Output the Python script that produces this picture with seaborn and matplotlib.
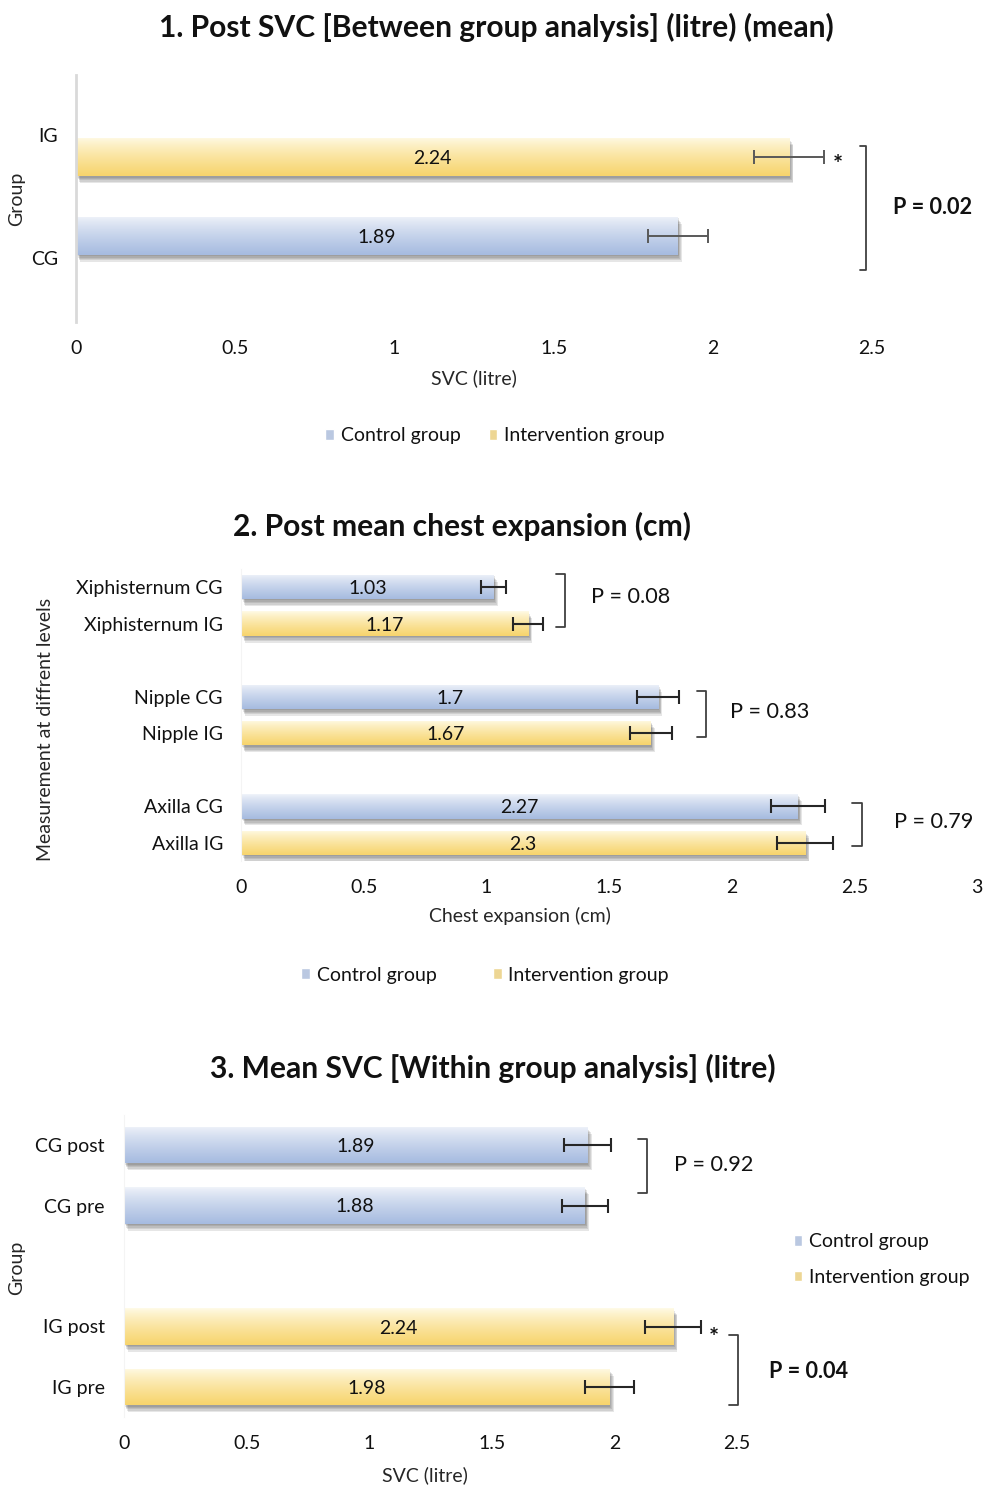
import numpy as np
import pandas as pd
import seaborn as sns
import matplotlib.pyplot as plt
import matplotlib.patheffects as pe
from matplotlib.colors import to_rgb
from matplotlib.container import BarContainer
from matplotlib.ticker import FuncFormatter

# ---- data ----
p1_groups = ["IG", "CG"]
p1_series = ["Intervention group", "Control group"]
p1_means = [2.24, 1.89]
p1_err = [0.11, 0.095]

p2_labels = ["Xiphisternum CG", "Xiphisternum IG", "Nipple CG", "Nipple IG",
             "Axilla CG", "Axilla IG"]
p2_series = ["Control group", "Intervention group"] * 3
p2_means = [1.03, 1.17, 1.7, 1.67, 2.27, 2.3]
p2_err = [0.05, 0.06, 0.085, 0.085, 0.11, 0.115]
p2_order = ["Xiphisternum CG", "Xiphisternum IG", " ", "Nipple CG", "Nipple IG",
            "  ", "Axilla CG", "Axilla IG"]

p3_labels = ["CG post", "CG pre", "IG post", "IG pre"]
p3_series = ["Control group", "Control group", "Intervention group", "Intervention group"]
p3_means = [1.89, 1.88, 2.24, 1.98]
p3_err = [0.095, 0.095, 0.115, 0.10]
p3_order = ["CG post", "CG pre", " ", "IG post", "IG pre"]

hue_order = ["Control group", "Intervention group"]
palette = {"Control group": "#B4C6E7", "Intervention group": "#FCDD85"}
grad = {"Control group": ("#F1F4FA", "#A6BBE0"),
        "Intervention group": ("#FFFBE8", "#F7D46C")}

sns.set_style("white")
plt.rcParams["font.family"] = ["Lato", "DejaVu Sans"]
plt.rcParams["text.color"] = "#111111"

FS = 14
W, H = 983, 1485
fig = plt.figure(figsize=(W / 100, H / 100), dpi=100)


def ax_px(left, right, top, bottom):
    return fig.add_axes([left / W, 1 - bottom / H, (right - left) / W, (bottom - top) / H])


def shade(ax):
    # vertical gradient + soft drop shadow on every bar
    shadow = [pe.SimplePatchShadow(offset=(o * 0.6, -o), shadow_rgbFace="#404040", alpha=0.13)
              for o in (1, 2, 3, 4, 5)]
    for patch in list(ax.patches):
        w = patch.get_width()
        if not np.isfinite(w) or w <= 0:
            continue
        fc = patch.get_facecolor()[:3]
        key = min(palette, key=lambda k: np.sum((np.array(to_rgb(palette[k])) - np.array(fc)) ** 2))
        top, bot = np.array(to_rgb(grad[key][0])), np.array(to_rgb(grad[key][1]))
        t = np.linspace(0, 1, 64) ** 0.8
        img = (top[None, :] * (1 - t[:, None]) + bot[None, :] * t[:, None])[:, None, :]
        x0, y0, h = patch.get_x(), patch.get_y(), patch.get_height()
        patch.set_edgecolor("none")
        patch.set_path_effects(shadow + [pe.Normal()])
        im = ax.imshow(img, extent=(x0, x0 + w, y0 + h, y0), aspect="auto",
                       zorder=patch.get_zorder() + 0.01, interpolation="bilinear")
        im.set_clip_path(patch)


def add_errors(ax, order, errs, color, lw):
    for patch in list(ax.patches):
        w = patch.get_width()
        if not np.isfinite(w) or w <= 0:
            continue
        yc = patch.get_y() + patch.get_height() / 2
        label = order[int(round(yc))]
        ax.errorbar(w, yc, xerr=errs[label], fmt="none", ecolor=color, elinewidth=lw,
                    capsize=5, capthick=lw, zorder=6)


def bracket(ax, x0, x1, y0, y1, color="#404040"):
    ax.plot([x0, x1, x1, x0], [y0, y0, y1, y1], color=color, lw=1.3, clip_on=False, zorder=6)


def style(ax, xmax, ylim, tick_pad):
    ax.set_xlim(0, xmax)
    ax.set_ylim(*ylim)
    ax.set_xticks(np.arange(0, xmax + 0.01, 0.5))
    ax.xaxis.set_major_formatter(FuncFormatter(lambda v, p: f"{v:g}"))
    ax.tick_params(axis="both", length=0, labelsize=FS, colors="#111111")
    ax.tick_params(axis="x", pad=13)
    ax.tick_params(axis="y", pad=tick_pad)
    for s in ["top", "right", "bottom"]:
        ax.spines[s].set_visible(False)


def value_labels(ax):
    for c in ax.containers:
        if isinstance(c, BarContainer):
            texts = ax.bar_label(c, fmt="%g", label_type="center", fontsize=FS,
                                 color="#111111", zorder=7)
            for t in texts:
                t.set_va("center_baseline")


def legend(ax, anchor, loc="center", **kw):
    ax.legend(loc=loc, bbox_to_anchor=anchor, bbox_transform=fig.transFigure, frameon=False,
              fontsize=FS, handlelength=0.45, handleheight=0.45, handletextpad=0.35, **kw)


# ---- panel 1 ----
df1 = pd.DataFrame({"group": p1_groups, "series": p1_series, "mean": p1_means})
ax1 = ax_px(76, 872, 75, 322)
sns.barplot(data=df1, x="mean", y="group", hue="series", order=p1_groups, hue_order=hue_order,
            palette=palette, orient="h", width=0.72, gap=0.14, dodge=True, errorbar=None, ax=ax1)
shade(ax1)
value_labels(ax1)
add_errors(ax1, p1_groups, dict(zip(p1_groups, p1_err)), "#595959", 1.4)
style(ax1, 2.5, (1.52, -0.488), 13)
ax1.spines["left"].set_color("#D9D9D9")
ax1.spines["left"].set_linewidth(2)
ax1.set_xlabel("SVC (litre)", fontsize=FS)
ax1.set_ylabel("Group", fontsize=FS)
ax1.xaxis.set_label_coords(0.5, -0.227)
ax1.xaxis.label.set_va("center")
ax1.yaxis.set_label_coords(-0.074, 0.5)
ax1.yaxis.label.set_va("center")
bracket(ax1, 2.462, 2.481, 0.089, 1.098)
ax1.text(2.393, 0.25, "*", fontsize=17, fontweight="bold", ha="center", va="center", clip_on=False)
ax1.text(2.566, 0.593, "P = 0.02", fontsize=15.6, fontweight="bold", ha="left", va="center", clip_on=False)
legend(ax1, (495 / W, 1 - 436 / H), ncol=2, columnspacing=1.45)

# ---- panel 2 ----
df2 = pd.DataFrame({"level": p2_labels, "series": p2_series, "mean": p2_means})
ax2 = ax_px(241, 977, 568.7, 861.3)
sns.barplot(data=df2, x="mean", y="level", hue="series", order=p2_order, hue_order=hue_order,
            palette=palette, orient="h", width=0.66, dodge=False, errorbar=None, ax=ax2)
shade(ax2)
value_labels(ax2)
add_errors(ax2, p2_order, dict(zip(p2_labels, p2_err)), "#262626", 1.5)
style(ax2, 3.0, (7.5, -0.5), 13)
ax2.spines["left"].set_color("#F4F4F4")
ax2.set_xlabel("Chest expansion (cm)", fontsize=FS)
ax2.set_ylabel("Measurement at diffrent levels", fontsize=FS)
ax2.xaxis.set_label_coords(0.379, -0.187)
ax2.xaxis.label.set_va("center")
ax2.yaxis.set_label_coords(-0.266, 0.449)
ax2.yaxis.label.set_va("center")
bracket(ax2, 1.285, 1.321, -0.355, 1.094)
bracket(ax2, 1.86, 1.896, 2.84, 4.10)
bracket(ax2, 2.49, 2.53, 5.91, 7.08)
ax2.text(1.427, 0.273, "P = 0.08", fontsize=15.6, ha="left", va="center", clip_on=False)
ax2.text(1.994, 3.42, "P = 0.83", fontsize=15.6, ha="left", va="center", clip_on=False)
ax2.text(2.66, 6.43, "P = 0.79", fontsize=15.6, ha="left", va="center", clip_on=False)
legend(ax2, (485 / W, 1 - 975 / H), ncol=2, columnspacing=2.9)

# ---- panel 3 ----
df3 = pd.DataFrame({"label": p3_labels, "series": p3_series, "mean": p3_means})
ax3 = ax_px(124, 737, 1114.75, 1417.25)
sns.barplot(data=df3, x="mean", y="label", hue="series", order=p3_order, hue_order=hue_order,
            palette=palette, orient="h", width=0.6, dodge=False, errorbar=None, ax=ax3)
shade(ax3)
value_labels(ax3)
add_errors(ax3, p3_order, dict(zip(p3_labels, p3_err)), "#262626", 1.5)
style(ax3, 2.5, (4.5, -0.5), 14)
ax3.spines["left"].set_color("#F4F4F4")
ax3.set_xlabel("SVC (litre)", fontsize=FS)
ax3.set_ylabel("Group", fontsize=FS)
ax3.xaxis.set_label_coords(0.491, -0.191)
ax3.xaxis.label.set_va("center")
ax3.yaxis.set_label_coords(-0.1746, 0.493)
ax3.yaxis.label.set_va("center")
bracket(ax3, 2.096, 2.133, -0.1, 0.79)
bracket(ax3, 2.467, 2.504, 3.14, 4.30)
ax3.text(2.406, 3.2, "*", fontsize=17, fontweight="bold", ha="center", va="center", clip_on=False)
ax3.text(2.243, 0.33, "P = 0.92", fontsize=15.6, ha="left", va="center", clip_on=False)
ax3.text(2.63, 3.75, "P = 0.04", fontsize=15.6, fontweight="bold", ha="left", va="center", clip_on=False)
legend(ax3, (776 / W, 1 - 1216 / H), loc="upper left", ncol=1, labelspacing=0.95)

# ---- titles ----
fig.text(496 / W, 1 - 27 / H, "1. Post SVC [Between group analysis] (litre) (mean)",
         fontsize=21.6, fontweight="bold", ha="center", va="center")
fig.text(462 / W, 1 - 526 / H, "2. Post mean chest expansion (cm)",
         fontsize=21.6, fontweight="bold", ha="center", va="center")
fig.text(493 / W, 1 - 1068 / H, "3. Mean SVC [Within group analysis] (litre)",
         fontsize=21.6, fontweight="bold", ha="center", va="center")

fig.savefig("out.png", dpi=100)
